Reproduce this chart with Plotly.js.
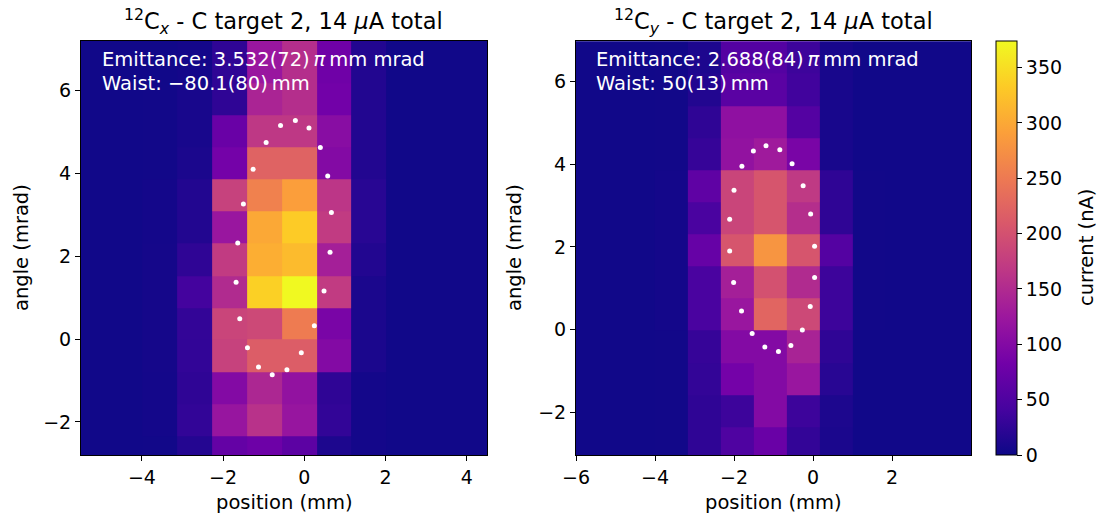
<!DOCTYPE html>
<html><head><meta charset="utf-8">
<script src="https://cdn.plot.ly/plotly-3.0.1.min.js"></script>
<style>html,body{margin:0;padding:0;background:#fff;}#chart{width:1101px;height:518px;}</style>
</head><body><div id="chart"></div>
<script>
// ---- data ----
const titleX = "<sup>12</sup>C<sub><i>x</i></sub> - C target 2, 14 <i>μ</i>A total";
const titleY = "<sup>12</sup>C<sub><i>y</i></sub> - C target 2, 14 <i>μ</i>A total";
const emitTextX = ["Emittance: 3.532(72)\u2009<i>π</i>\u2009mm mrad", "Waist: \u221280.1(80)\u2009mm"];
const emitTextY = ["Emittance: 2.688(84)\u2009<i>π</i>\u2009mm mrad", "Waist: 50(13)\u2009mm"];
const xLabel = "position (mm)";
const yLabel = "angle (mrad)";
const cbLabel = "current (nA)";

// left panel (x plane) bin centres
const posX = [-5.29, -4.43, -3.57, -2.71, -1.85, -0.98, -0.12, 0.73, 1.59, 2.45, 3.31, 4.17];
const angX = [-2.72, -1.95, -1.18, -0.40, 0.37, 1.14, 1.92, 2.70, 3.47, 4.24, 5.01, 5.80, 6.58, 7.36];
const curX = [
  [3,3,4,17, 70, 78, 62, 12, 5,3,3,3],
  [3,3,5,27,120,160,120, 27, 5,3,3,3],
  [3,3,5,25,100,145,115, 25, 5,3,3,3],
  [3,3,6,27,180,215,215,100,10,3,3,3],
  [3,3,6,28,185,190,252, 90,10,3,3,3],
  [3,3,6,40,150,338,374,172,10,3,3,3],
  [3,3,6,25,172,305,318,135,15,3,3,3],
  [3,3,5,15,122,300,333,172,20,3,3,3],
  [3,3,5,15,180,258,290,165,20,3,3,3],
  [3,3,4,10, 85,222,222,100,15,3,3,3],
  [3,3,4, 8, 75,168,168,105,15,3,3,3],
  [3,3,4, 8, 25,142,155, 83,15,3,3,3],
  [3,3,3, 5, 25,122,155, 80,15,3,3,3],
  [3,3,3, 5, 25,122,155, 80,15,3,3,3]
];
const ellXx = [-0.22, 0.115, 0.395, 0.576, 0.667, 0.634, 0.486, 0.247, -0.074, -0.428, -0.79, -1.128, -1.40, -1.59, -1.68, -1.64, -1.50, -1.26, -0.94, -0.585];
const ellXy = [5.28, 5.10, 4.63, 3.94, 3.06, 2.10, 1.16, 0.32, -0.33, -0.74, -0.86, -0.675, -0.21, 0.49, 1.37, 2.32, 3.26, 4.10, 4.75, 5.16];

// right panel (y plane) bin centres
const posY = [-6.09, -5.25, -4.42, -3.585, -2.75, -1.915, -1.08, -0.245, 0.59, 1.43, 2.27, 3.10, 3.94];
const angY = [-2.75, -1.975, -1.195, -0.41, 0.37, 1.145, 1.92, 2.70, 3.48, 4.255, 5.025, 5.805, 6.585];
const curY = [
  [3,3,3,4,25, 50, 75, 28,10,3,3,3,3],
  [3,3,3,4,25, 35,100, 35,12,3,3,3,3],
  [3,3,3,4,28, 85,100,122,20,3,3,3,3],
  [3,3,3,4,30,100,100,140,25,3,3,3,3],
  [3,3,3,5,45,122,225,190,35,4,3,3,3],
  [3,3,3,5,45,135,200,150,35,4,3,3,3],
  [3,3,3,5,72,205,280,205,55,4,3,3,3],
  [3,3,3,5,45,185,205,155,25,4,3,3,3],
  [3,3,3,5,65,185,205,170,25,4,3,3,3],
  [3,3,3,4,30,115,128, 90, 8,3,3,3,3],
  [3,3,3,4,25,112,112, 55, 8,3,3,3,3],
  [3,3,3,4,15, 60, 60, 38, 8,3,3,3,3],
  [3,3,3,4,12, 55, 55, 35, 8,3,3,3,3]
];
const ellYx = [-1.19, -0.84, -0.53, -0.25, -0.06, 0.04, 0.04, -0.07, -0.27, -0.56, -0.875, -1.22, -1.54, -1.81, -2.01, -2.11, -2.11, -2.00, -1.80, -1.51];
const ellYy = [4.45, 4.35, 4.01, 3.48, 2.80, 2.02, 1.26, 0.56, -0.01, -0.38, -0.53, -0.42, -0.09, 0.45, 1.14, 1.90, 2.67, 3.37, 3.95, 4.32];

const cbTicks = [0, 50, 100, 150, 200, 250, 300, 350];
const zMax = 374;

// ---- style ----
const plasmaHex = ['#0d0887','#46039f','#7201a8','#9c179e','#bd3786','#d8576b','#ed7953','#fb9f3a','#fdca26','#f0f921'];
const plasma = plasmaHex.map((c, i) => [i / (plasmaHex.length - 1), c]);
const FONT = "DejaVu Sans, Verdana, sans-serif";
const W = 1101, H = 518;
const px = v => v / W, py = v => 1 - v / H;

const traces = [
  {type: 'heatmap', x: posX, y: angX, z: curX, xaxis: 'x', yaxis: 'y',
   colorscale: plasma, zmin: 0, zmax: zMax, showscale: false, zsmooth: false},
  {type: 'scatter', mode: 'markers', x: ellXx, y: ellXy, xaxis: 'x', yaxis: 'y',
   marker: {color: 'white', size: 5}, showlegend: false},
  {type: 'heatmap', x: posY, y: angY, z: curY, xaxis: 'x2', yaxis: 'y2',
   colorscale: plasma, zmin: 0, zmax: zMax, zsmooth: false,
   colorbar: {x: px(996), xanchor: 'left', xref: 'paper', y: py(41), yanchor: 'top', yref: 'paper',
     thickness: 21, thicknessmode: 'pixels', len: 414, lenmode: 'pixels',
     outlinewidth: 1, outlinecolor: 'black', xpad: 0, ypad: 0,
     tickvals: cbTicks, ticks: 'outside', ticklen: 5, tickcolor: 'black',
     tickfont: {family: FONT, size: 19, color: 'black'}}},
  {type: 'scatter', mode: 'markers', x: ellYx, y: ellYy, xaxis: 'x2', yaxis: 'y2',
   marker: {color: 'white', size: 5}, showlegend: false}
];

const axBase = {showline: true, mirror: true, linecolor: 'black', linewidth: 1,
  ticks: 'outside', ticklen: 5, tickwidth: 1, tickcolor: 'black',
  showgrid: false, zeroline: false, automargin: false,
  tickfont: {family: FONT, size: 19, color: 'black'}};

const ann = (text, x, y, opts) => Object.assign({text, x: px(x), y: py(y), xref: 'paper', yref: 'paper',
  showarrow: false, font: {family: FONT, size: 19.5, color: 'black'}}, opts || {});

const titleFont = {family: FONT, size: 22.5, color: 'black'};
const emitFont = {family: FONT, size: 19.5, color: 'white'};
const annotations = [
  ann(titleX, 283, 21, {xanchor: 'center', yanchor: 'middle', font: titleFont}),
  ann(titleY, 773, 21, {xanchor: 'center', yanchor: 'middle', font: titleFont}),
  ann(emitTextX[0], 100, 59, {xanchor: 'left', yanchor: 'middle', font: emitFont}),
  ann(emitTextX[1], 100, 83, {xanchor: 'left', yanchor: 'middle', font: emitFont}),
  ann(emitTextY[0], 594, 59, {xanchor: 'left', yanchor: 'middle', font: emitFont}),
  ann(emitTextY[1], 594, 83, {xanchor: 'left', yanchor: 'middle', font: emitFont}),
  ann(xLabel, 284, 502, {xanchor: 'center', yanchor: 'middle'}),
  ann(xLabel, 773.5, 502, {xanchor: 'center', yanchor: 'middle'}),
  ann(yLabel, 22, 248, {xanchor: 'center', yanchor: 'middle', textangle: -90}),
  ann(yLabel, 515, 248, {xanchor: 'center', yanchor: 'middle', textangle: -90}),
  ann(cbLabel, 1087, 248, {xanchor: 'center', yanchor: 'middle', textangle: -90})
];

const layout = {
  width: W, height: H, margin: {l: 0, r: 0, t: 0, b: 0},
  paper_bgcolor: 'white', plot_bgcolor: 'white', showlegend: false,
  font: {family: FONT, size: 19, color: 'black'},
  xaxis: Object.assign({}, axBase, {domain: [px(81), px(487)], range: [-5.5, 4.5], tickvals: [-4, -2, 0, 2, 4], anchor: 'y'}),
  yaxis: Object.assign({}, axBase, {domain: [py(455), py(41)], range: [-2.8, 7.2], tickvals: [-2, 0, 2, 4, 6], anchor: 'x'}),
  xaxis2: Object.assign({}, axBase, {domain: [px(576), px(971)], range: [-6.0, 4.0], tickvals: [-6, -4, -2, 0, 2], anchor: 'y2'}),
  yaxis2: Object.assign({}, axBase, {domain: [py(455), py(41)], range: [-3.03, 6.98], tickvals: [-2, 0, 2, 4, 6], anchor: 'x2'}),
  annotations
};

Plotly.newPlot('chart', traces, layout, {staticPlot: true, displayModeBar: false});
</script>
</body></html>
